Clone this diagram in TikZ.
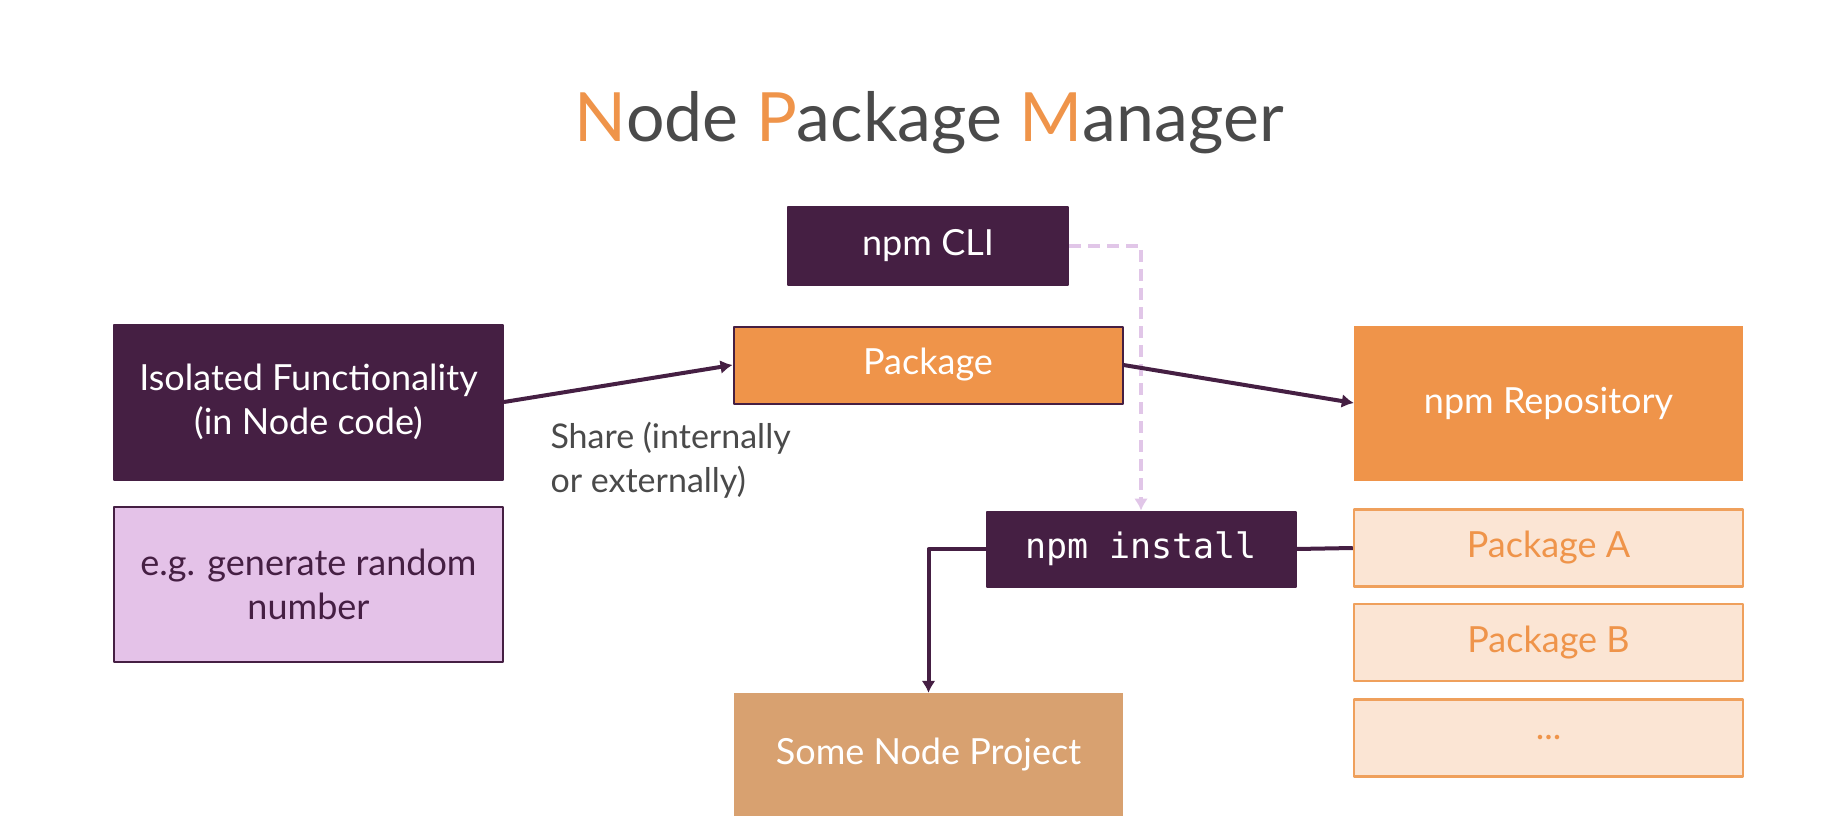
\documentclass[tikz,border=0pt]{standalone}
\usepackage{fontspec}
\setmainfont{Lato}
\newfontfamily\codefont{DejaVu Sans Mono}
\usetikzlibrary{arrows.meta}
\definecolor{npmpurple}{RGB}{69,31,67}
\definecolor{npmorange}{RGB}{239,148,74}
\definecolor{lilac}{RGB}{228,194,232}
\definecolor{tan}{RGB}{216,161,112}
\definecolor{paleorange}{RGB}{251,229,212}
\definecolor{lineorange}{RGB}{239,160,92}
\definecolor{titlegray}{RGB}{74,74,74}
\definecolor{dashlilac}{RGB}{225,198,232}
\begin{document}
\begin{tikzpicture}[x=1pt, y=-1pt, line join=round, >={Latex[length=12pt,width=14pt]},
box/.style={rectangle, inner sep=0pt, align=center, font=\fontsize{36}{44}\selectfont},
darkbox/.style={box, fill=npmpurple, draw=npmpurple, line width=2pt, text=white},
orangebox/.style={box, fill=npmorange, text=white},
pkgbox/.style={box, fill=paleorange, draw=lineorange, line width=2.5pt, text=npmorange},
conn/.style={draw=npmpurple, line width=4pt},
dashconn/.style={draw=dashlilac, line width=3.5pt, dash pattern=on 12pt off 7pt}]
\def\wbox{389} \def\hbig{155} \def\hsmall{77}
\useasboundingbox (0,0) rectangle (1844,834);
% title
\node (title) at (929,123) {\fontsize{68}{80}\selectfont\color{titlegray}%
{\color{npmorange}N}ode {\color{npmorange}P}ackage {\color{npmorange}M}anager};
% left column
\node[darkbox, minimum width=\wbox, minimum height=\hbig] (iso) at (308.5,402)
{Isolated Functionality\\(in Node code)};
\node[box, fill=lilac, draw=npmpurple, line width=2pt, text=npmpurple,
minimum width=\wbox, minimum height=\hbig] (eg) at (308.5,584)
{e.g. generate random\\number};
\node[anchor=west, align=left, text=titlegray, font=\fontsize{34}{44}\selectfont] (share)
at (547,460) {Share (internally\\or externally)};
% middle column
\node[darkbox, minimum width=280, minimum height=78] (cli) at (928,246) {npm CLI};
\node[orangebox, draw=npmpurple, line width=2pt, minimum width=\wbox,
minimum height=\hsmall] (pkg) at (928,365) {Package};
\node[darkbox, minimum width=309, minimum height=75, font=\fontsize{35}{42}\codefont]
(inst) at (1141,549) {npm install};
\node[box, fill=tan, text=white, minimum width=\wbox, minimum height=123] (proj)
at (928.5,754.5) {Some Node Project};
% right column
\node[orangebox, minimum width=\wbox, minimum height=\hbig] (repo) at (1548.5,403)
{npm Repository};
\node[pkgbox, minimum width=\wbox, minimum height=\hsmall] (pkga) at (1548.5,548) {Package A};
\node[pkgbox, minimum width=\wbox, minimum height=\hsmall] (pkgb) at (1548.5,642.5) {Package B};
\node[pkgbox, minimum width=\wbox, minimum height=\hsmall] (more) at (1548.5,738) {...};
% connectors
\draw[dashconn,->] (cli.east) -| (inst.north);
\draw[conn,->] (iso.east) -- (pkg.west);
\draw[conn,->] (pkg.east) -- (repo.west);
\draw[conn,->] (inst.west) -| (proj.north);
\draw[conn] (inst.east) -- (pkga.west);
\end{tikzpicture}
\end{document}
